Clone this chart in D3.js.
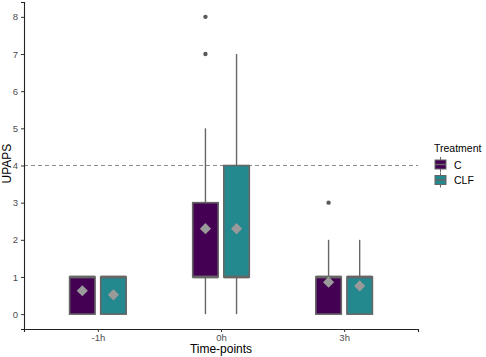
<!DOCTYPE html>
<html>
<head>
<meta charset="utf-8">
<script src="https://cdn.jsdelivr.net/npm/d3@7"></script>
<style>
  body { margin: 0; background: #fff; }
  svg text { font-family: "Liberation Sans", Arial, sans-serif; }
</style>
</head>
<body>
<div id="chart"></div>
<script>
// time points and treatment groups
const timePoints = ["-1h", "0h", "3h"];
const treatments = ["C", "CLF"];
const treatmentColors = ["#440154", "#23898E"];

// box summaries per group, order: -1h C, -1h CLF, 0h C, 0h CLF, 3h C, 3h CLF
const boxTime   = ["-1h", "-1h", "0h", "0h", "3h", "3h"];
const boxGroup  = ["C", "CLF", "C", "CLF", "C", "CLF"];
const whiskLow  = [0, 0, 0, 0, 0, 0];
const q1        = [0, 0, 1, 1, 0, 0];
const median    = [1, 1, 1, 1, 1, 1];
const q3        = [1, 1, 3, 4, 1, 1];
const whiskHigh = [1, 1, 5, 7, 2, 2];
const means     = [0.63, 0.52, 2.3, 2.3, 0.86, 0.76];
const outliers  = [[], [], [7, 8], [], [3], []];

const yTicks = [0, 1, 2, 3, 4, 5, 6, 7, 8];
const refLine = 4;

const boxes = boxTime.map((t, i) => ({
    time: t, group: boxGroup[i], lo: whiskLow[i], q1: q1[i], med: median[i],
    q3: q3[i], hi: whiskHigh[i], mean: means[i], out: outliers[i]
}));

const W = 486, H = 357;
const margin = {top: 2, right: 68, bottom: 28, left: 24};
const width = W - margin.left - margin.right;
const height = H - margin.top - margin.bottom;

const svg = d3.select("#chart").append("svg")
    .attr("width", W)
    .attr("height", H);

const g = svg.append("g")
    .attr("transform", "translate(" + margin.left + "," + margin.top + ")");

// scales (discrete x with ggplot-like 0.6 expansion)
const x = d3.scalePoint()
    .domain(timePoints)
    .range([0, width])
    .padding(0.6);

const y = d3.scaleLinear()
    .domain([-0.4, 8.4])
    .range([height, 0]);

const color = d3.scaleOrdinal().domain(treatments).range(treatmentColors);

// dodge within each time point
const dodge = d3.scaleBand()
    .domain(treatments)
    .range([-28.3, 28.3])
    .paddingInner(0.18)
    .paddingOuter(0);

// reference line
g.append("line")
    .attr("x1", 0).attr("x2", width)
    .attr("y1", y(refLine)).attr("y2", y(refLine))
    .attr("stroke", "#8c8c8c")
    .attr("stroke-width", 1.1)
    .attr("stroke-dasharray", "4,3");

// boxes
const bw = dodge.bandwidth();
const grp = g.selectAll(".box")
    .data(boxes)
    .enter()
    .append("g")
    .attr("class", "box")
    .attr("transform", d => "translate(" + (x(d.time) + dodge(d.group)) + ",0)");

// whiskers
grp.append("line")
    .attr("x1", bw / 2).attr("x2", bw / 2)
    .attr("y1", d => y(d.q3)).attr("y2", d => y(d.hi))
    .attr("stroke", "#666")
    .attr("stroke-width", 1.4);
grp.append("line")
    .attr("x1", bw / 2).attr("x2", bw / 2)
    .attr("y1", d => y(d.q1)).attr("y2", d => y(d.lo))
    .attr("stroke", "#666")
    .attr("stroke-width", 1.4);

grp.append("rect")
    .attr("x", 0)
    .attr("width", bw)
    .attr("y", d => y(d.q3))
    .attr("height", d => y(d.q1) - y(d.q3))
    .attr("fill", d => color(d.group))
    .attr("stroke", "#666")
    .attr("stroke-width", 1.6);

// median
grp.append("line")
    .attr("x1", 0).attr("x2", bw)
    .attr("y1", d => y(d.med)).attr("y2", d => y(d.med))
    .attr("stroke", "#666")
    .attr("stroke-width", 2.8);

// outliers
grp.selectAll(".outlier")
    .data(d => d.out)
    .enter()
    .append("circle")
    .attr("class", "outlier")
    .attr("cx", bw / 2)
    .attr("cy", v => y(v))
    .attr("r", 2.2)
    .attr("fill", "#595959");

// mean diamonds
grp.append("path")
    .attr("d", d3.symbol().type(d3.symbolSquare).size(62))
    .attr("transform", d => "translate(" + (bw / 2) + "," + y(d.mean) + ") rotate(45)")
    .attr("fill", "#9a9a9a");

// axes
const yAxis = g.append("g")
    .call(d3.axisLeft(y).tickValues(yTicks).tickSize(3).tickPadding(3));
const xAxis = g.append("g")
    .attr("transform", "translate(0," + height + ")")
    .call(d3.axisBottom(x).tickSize(3).tickPadding(2));

[xAxis, yAxis].forEach(a => {
    a.select(".domain").attr("stroke", "#222").attr("stroke-width", 1.1);
    a.selectAll(".tick line").attr("stroke", "#333");
    a.selectAll(".tick text").attr("fill", "#4d4d4d").style("font-size", "9.5px")
        .style("font-family", "Liberation Sans, Arial, sans-serif");
});

// axis titles
svg.append("text")
    .attr("transform", "translate(" + 11 + "," + (margin.top + y(4.05)) + ") rotate(-90)")
    .attr("text-anchor", "middle")
    .style("font-size", "12px")
    .text("UPAPS");

svg.append("text")
    .attr("x", margin.left + width / 2)
    .attr("y", 353)
    .attr("text-anchor", "middle")
    .style("font-size", "12px")
    .text("Time-points");

// legend
const legend = svg.append("g")
    .attr("transform", "translate(434,0)");

legend.append("text")
    .attr("x", 0).attr("y", 152)
    .style("font-size", "10.5px")
    .text("Treatment");

const keys = legend.selectAll(".key")
    .data(treatments)
    .enter()
    .append("g")
    .attr("class", "key")
    .attr("transform", (d, i) => "translate(0," + (157 + i * 15.5) + ")");

keys.append("line")
    .attr("x1", 6.5).attr("x2", 6.5)
    .attr("y1", 0).attr("y2", 15)
    .attr("stroke", "#666")
    .attr("stroke-width", 1);
keys.append("rect")
    .attr("x", 1).attr("y", 3)
    .attr("width", 11).attr("height", 9)
    .attr("fill", d => color(d))
    .attr("stroke", "#666")
    .attr("stroke-width", 1);
keys.append("line")
    .attr("x1", 1).attr("x2", 12)
    .attr("y1", 7.5).attr("y2", 7.5)
    .attr("stroke", "#666")
    .attr("stroke-width", 1.5);
keys.append("text")
    .attr("x", 20).attr("y", 11.5)
    .style("font-size", "10.5px")
    .text(d => d);
</script>
</body>
</html>
